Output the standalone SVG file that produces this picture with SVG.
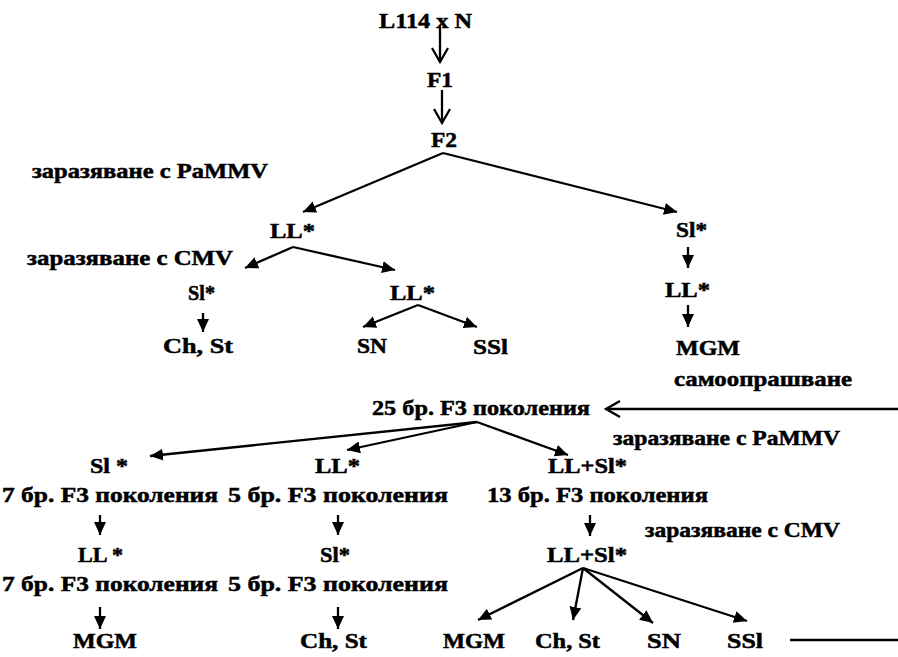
<svg xmlns="http://www.w3.org/2000/svg" width="898" height="657" viewBox="0 0 898 657">
<style>
text{font-family:"Liberation Serif","Times New Roman",serif;font-weight:bold;font-size:21px;fill:#000;stroke:#000;stroke-width:0.5}
.c{stroke:#000;stroke-width:2.3;fill:none}
.f{marker-end:url(#ah)}
.o{marker-end:url(#ov)}
</style>
<defs>
<marker id="ah" markerUnits="userSpaceOnUse" markerWidth="16" markerHeight="14" refX="13" refY="6" orient="auto">
<path d="M0,0 L13,6 L0,12 Z" fill="#000"/>
</marker>
<marker id="ov" markerUnits="userSpaceOnUse" markerWidth="20" markerHeight="20" refX="15" refY="9" orient="auto">
<path d="M1,1 L15,9 L1,17" fill="none" stroke="#000" stroke-width="2.3"/>
</marker>
</defs>
<rect width="898" height="657" fill="#fff"/>
<g id="connectors">
<line class="c o" x1="440" y1="25" x2="440" y2="62"/>
<line class="c o" x1="442" y1="90" x2="442" y2="123"/>
<line class="c f" x1="443" y1="153" x2="303" y2="212"/>
<line class="c f" x1="443" y1="153" x2="677" y2="212"/>
<line class="c f" x1="293" y1="247" x2="245" y2="268"/>
<line class="c f" x1="293" y1="247" x2="395" y2="270"/>
<line class="c f" x1="203" y1="313" x2="203" y2="332"/>
<line class="c f" x1="418" y1="305" x2="363" y2="327"/>
<line class="c f" x1="418" y1="305" x2="477" y2="327"/>
<line class="c f" x1="688" y1="247" x2="688" y2="268"/>
<line class="c f" x1="688" y1="305" x2="688" y2="327"/>
<line class="c o" x1="898" y1="409" x2="606" y2="409"/>
<line class="c f" x1="477" y1="422" x2="150" y2="456"/>
<line class="c f" x1="477" y1="422" x2="347" y2="450"/>
<line class="c f" x1="477" y1="422" x2="568" y2="455"/>
<line class="c f" x1="100" y1="515" x2="100" y2="535"/>
<line class="c f" x1="338" y1="515" x2="338" y2="535"/>
<line class="c f" x1="590" y1="515" x2="590" y2="536"/>
<line class="c f" x1="100" y1="607" x2="100" y2="629"/>
<line class="c f" x1="338" y1="607" x2="338" y2="629"/>
<line class="c f" x1="583" y1="568" x2="478" y2="620"/>
<line class="c f" x1="583" y1="568" x2="573" y2="620"/>
<line class="c f" x1="583" y1="568" x2="653" y2="623"/>
<line class="c f" x1="583" y1="568" x2="747" y2="621"/>
<line class="c" x1="790" y1="640" x2="898" y2="640"/>
</g>
<g id="n-cross"><text x="379" y="28" textLength="93" lengthAdjust="spacingAndGlyphs">L114 x N</text></g>
<g id="n-f1"><text x="427" y="87" textLength="26" lengthAdjust="spacingAndGlyphs">F1</text></g>
<g id="n-f2"><text x="431" y="147" textLength="26" lengthAdjust="spacingAndGlyphs">F2</text></g>
<g id="l-pammv1"><text x="32" y="178" textLength="236" lengthAdjust="spacingAndGlyphs">заразяване с PaMMV</text></g>
<g id="n-ll1"><text x="270" y="238" textLength="45" lengthAdjust="spacingAndGlyphs">LL*</text></g>
<g id="l-cmv1"><text x="27" y="265" textLength="206" lengthAdjust="spacingAndGlyphs">заразяване с CMV</text></g>
<g id="n-sl1"><text x="188" y="300" textLength="27" lengthAdjust="spacingAndGlyphs">Sl*</text></g>
<g id="n-ll2"><text x="390" y="300" textLength="45" lengthAdjust="spacingAndGlyphs">LL*</text></g>
<g id="n-chst1"><text x="163" y="353" textLength="70" lengthAdjust="spacingAndGlyphs">Ch, St</text></g>
<g id="n-sn1"><text x="357" y="353" textLength="30" lengthAdjust="spacingAndGlyphs">SN</text></g>
<g id="n-ssl1"><text x="473" y="354" textLength="35" lengthAdjust="spacingAndGlyphs">SSl</text></g>
<g id="n-sl2"><text x="676" y="237" textLength="31" lengthAdjust="spacingAndGlyphs">Sl*</text></g>
<g id="n-ll3"><text x="665" y="297" textLength="45" lengthAdjust="spacingAndGlyphs">LL*</text></g>
<g id="n-mgm1"><text x="676" y="355" textLength="64" lengthAdjust="spacingAndGlyphs">MGM</text></g>
<g id="l-self"><text x="674" y="386" textLength="178" lengthAdjust="spacingAndGlyphs">самоопрашване</text></g>
<g id="n-25"><text x="372" y="415" textLength="218" lengthAdjust="spacingAndGlyphs">25 бр. F3 поколения</text></g>
<g id="l-pammv2"><text x="613" y="445" textLength="227" lengthAdjust="spacingAndGlyphs">заразяване с PaMMV</text></g>
<g id="n-sl3"><text x="90" y="473" textLength="38" lengthAdjust="spacingAndGlyphs">Sl *</text></g>
<g id="n-ll4"><text x="315" y="473" textLength="45" lengthAdjust="spacingAndGlyphs">LL*</text></g>
<g id="n-llsl1"><text x="548" y="473" textLength="79" lengthAdjust="spacingAndGlyphs">LL+Sl*</text></g>
<g id="n-7a"><text x="2" y="502" textLength="216" lengthAdjust="spacingAndGlyphs">7 бр. F3 поколения</text></g>
<g id="n-5a"><text x="228" y="502" textLength="220" lengthAdjust="spacingAndGlyphs">5 бр. F3 поколения</text></g>
<g id="n-13"><text x="487" y="502" textLength="221" lengthAdjust="spacingAndGlyphs">13 бр. F3 поколения</text></g>
<g id="l-cmv2"><text x="645" y="537" textLength="195" lengthAdjust="spacingAndGlyphs">заразяване с CMV</text></g>
<g id="n-ll5"><text x="78" y="562" textLength="45" lengthAdjust="spacingAndGlyphs">LL *</text></g>
<g id="n-sl4"><text x="320" y="562" textLength="30" lengthAdjust="spacingAndGlyphs">Sl*</text></g>
<g id="n-llsl2"><text x="547" y="562" textLength="80" lengthAdjust="spacingAndGlyphs">LL+Sl*</text></g>
<g id="n-7b"><text x="2" y="591" textLength="216" lengthAdjust="spacingAndGlyphs">7 бр. F3 поколения</text></g>
<g id="n-5b"><text x="228" y="591" textLength="220" lengthAdjust="spacingAndGlyphs">5 бр. F3 поколения</text></g>
<g id="n-mgm2"><text x="73" y="648" textLength="64" lengthAdjust="spacingAndGlyphs">MGM</text></g>
<g id="n-chst2"><text x="300" y="648" textLength="67" lengthAdjust="spacingAndGlyphs">Ch, St</text></g>
<g id="n-mgm3"><text x="443" y="648" textLength="62" lengthAdjust="spacingAndGlyphs">MGM</text></g>
<g id="n-chst3"><text x="535" y="648" textLength="65" lengthAdjust="spacingAndGlyphs">Ch, St</text></g>
<g id="n-sn2"><text x="647" y="648" textLength="34" lengthAdjust="spacingAndGlyphs">SN</text></g>
<g id="n-ssl2"><text x="727" y="648" textLength="36" lengthAdjust="spacingAndGlyphs">SSl</text></g>
</svg>
